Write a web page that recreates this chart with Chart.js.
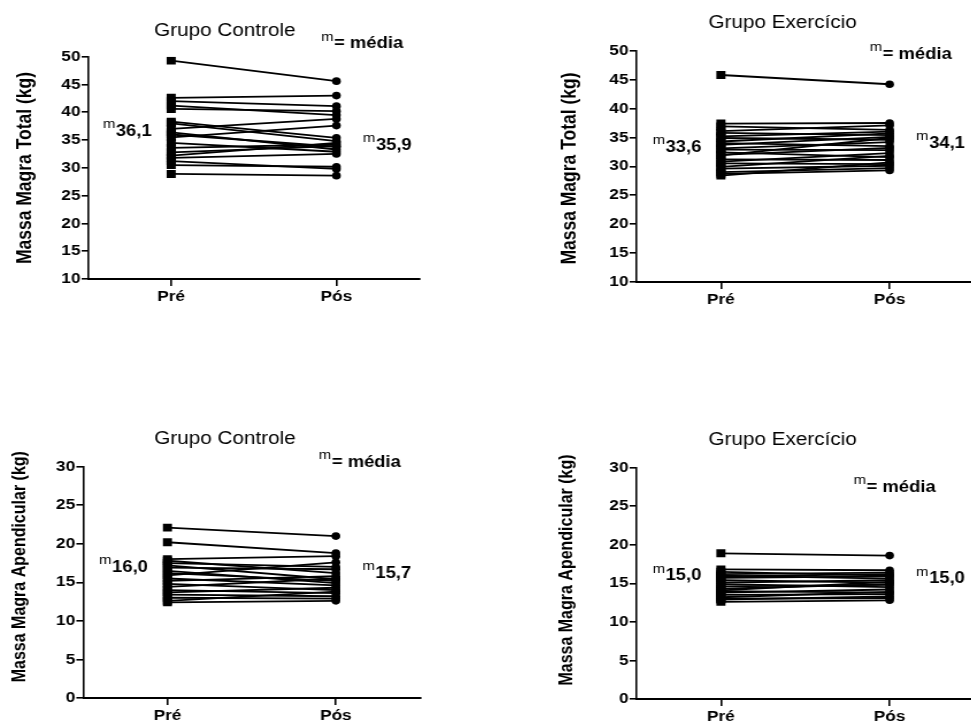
<!DOCTYPE html>
<html>
<head>
    <meta charset="utf-8">
    <title>Massa Magra - Pré e Pós</title>
    <script src="https://cdn.jsdelivr.net/npm/chart.js"></script>
    <style>
        html, body {
            margin: 0;
            padding: 0;
            background: #fff;
            overflow: hidden;
        }
        body {
            width: 971px;
            height: 722px;
            position: relative;
        }
        .panel {
            position: absolute;
            transform-origin: 0 0;
            transform: scaleX(1.15);
        }
    </style>
</head>
<body>
    <div class="panel" style="left:0px; top:21px;"><canvas id="c1" width="370" height="290"></canvas></div>
    <div class="panel" style="left:548.45px; top:13px;"><canvas id="c2" width="376" height="301"></canvas></div>
    <div class="panel" style="left:0.5px; top:429px;"><canvas id="c3" width="370" height="301"></canvas></div>
    <div class="panel" style="left:548.45px; top:430px;"><canvas id="c4" width="376" height="301"></canvas></div>

    <script>
        const categorias = ['Pré', 'Pós'];
        const ticksTotal = [10, 15, 20, 25, 30, 35, 40, 45, 50];
        const ticksApendicular = [0, 5, 10, 15, 20, 25, 30];

        // massa magra total (kg)
        const controleTotalPre = [49.3, 42.6, 42.0, 41.2, 40.6, 38.3, 38.0, 37.0, 36.4, 36.0, 35.5, 34.5, 33.6, 32.8, 32.2, 31.8, 31.2, 30.5, 28.9];
        const controleTotalPos = [45.6, 43.0, 41.1, 39.5, 40.2, 35.4, 34.8, 38.8, 33.3, 33.8, 37.6, 32.9, 34.2, 33.9, 34.5, 32.5, 29.8, 30.2, 28.6];
        const exercicioTotalPre = [45.8, 37.4, 36.9, 36.1, 35.8, 35.2, 34.9, 34.3, 34.0, 33.7, 33.1, 32.9, 32.4, 32.0, 31.9, 31.2, 30.8, 30.5, 29.9, 29.6, 29.0, 28.7, 28.4];
        const exercicioTotalPos = [44.2, 37.5, 36.3, 37.1, 35.4, 36.0, 34.6, 35.7, 33.5, 35.1, 34.2, 32.8, 31.6, 33.2, 34.9, 31.1, 32.3, 30.4, 31.8, 30.1, 29.7, 29.3, 30.7];

        // massa magra apendicular (kg)
        const controleApendPre = [22.1, 20.2, 18.0, 17.8, 17.5, 17.2, 16.9, 16.5, 16.2, 15.9, 15.5, 15.2, 14.8, 14.4, 14.0, 13.7, 13.4, 13.0, 12.6, 12.4];
        const controleApendPos = [21.0, 18.8, 18.4, 16.2, 17.0, 15.4, 16.7, 14.9, 15.2, 17.6, 14.6, 15.8, 14.0, 15.5, 13.6, 14.3, 13.2, 12.9, 13.8, 12.6];
        const exercicioApendPre = [18.9, 16.8, 16.5, 16.2, 16.0, 15.7, 15.4, 15.1, 14.9, 14.6, 14.3, 14.0, 13.8, 13.5, 13.2, 12.9, 12.6, 15.9, 14.1, 13.0];
        const exercicioApendPos = [18.6, 16.7, 16.0, 16.4, 15.6, 15.9, 15.1, 15.4, 14.5, 14.8, 14.9, 13.8, 14.2, 13.6, 13.9, 13.3, 12.8, 16.2, 15.2, 13.1];

        // médias (texto)
        const mediasControleTotal = ['36,1', '35,9'];
        const mediasExercicioTotal = ['33,6', '34,1'];
        const mediasControleApend = ['16,0', '15,7'];
        const mediasExercicioApend = ['15,0', '15,0'];

        const FONT = "'Liberation Sans', Arial, sans-serif";
        Chart.defaults.font.family = FONT;
        Chart.defaults.color = '#000';

        // titulo, titulo do eixo y, rotulos de media e legenda "m= média"
        const anotacoes = {
            id: 'anotacoes',
            afterDatasetsDraw(chart, args, o) {
                const {ctx, chartArea, scales: {x, y}} = chart;
                const xPre = x.getPixelForValue(0);
                const xPos = x.getPixelForValue(1);
                ctx.save();
                ctx.fillStyle = '#000';
                ctx.textBaseline = 'middle';

                ctx.font = '18px ' + FONT;
                ctx.textAlign = 'center';
                ctx.fillText(o.titulo, o.tituloX, o.tituloY);

                ctx.save();
                ctx.translate(o.yTituloX, o.yTituloY);
                ctx.rotate(-Math.PI / 2);
                ctx.font = 'bold ' + o.yTituloSize + 'px ' + FONT;
                ctx.fillText(o.yTitulo, 0, 0);
                ctx.restore();

                ctx.textAlign = 'left';
                function comM(texto, xLeft, yMid) {
                    ctx.font = '13px ' + FONT;
                    const mW = ctx.measureText('m').width;
                    ctx.fillText('m', xLeft, yMid - 7);
                    ctx.font = 'bold 16px ' + FONT;
                    ctx.fillText(texto, xLeft + mW + 0.5, yMid);
                }
                function largura(texto) {
                    ctx.font = '13px ' + FONT;
                    const mW = ctx.measureText('m').width;
                    ctx.font = 'bold 16px ' + FONT;
                    return mW + 0.5 + ctx.measureText(texto).width;
                }

                const wPre = largura(o.medias[0]);
                comM(o.medias[0], xPre - 17 - wPre, y.getPixelForValue(o.yPre));
                comM(o.medias[1], xPos + 23, y.getPixelForValue(o.yPos));

                const wLeg = largura('= média');
                comM('= média', xPos + o.legDx - wLeg, chartArea.top + o.legDy);
                ctx.restore();
            }
        };

        function makeChart(id, pre, pos, cfg) {
            const datasets = pre.map((v, i) => ({
                label: 'S' + (i + 1),
                data: [v, pos[i]],
                borderColor: '#000',
                backgroundColor: '#000',
                borderWidth: 1.8,
                pointStyle: ['rect', 'circle'],
                pointRadius: [5.6, 3.8],
                pointBorderWidth: 0,
                fill: false,
                tension: 0
            }));

            return new Chart(document.getElementById(id), {
                type: 'line',
                data: { labels: categorias, datasets: datasets },
                plugins: [anotacoes],
                options: {
                    responsive: false,
                    animation: false,
                    events: [],
                    layout: { padding: { top: cfg.padTop, left: 0, right: 0, bottom: 0 } },
                    plugins: {
                        legend: { display: false },
                        tooltip: { enabled: false },
                        anotacoes: cfg
                    },
                    scales: {
                        x: {
                            offset: true,
                            afterFit: s => { s.height = 32; },
                            grid: { offset: false, drawOnChartArea: false, tickLength: 7, color: '#000', lineWidth: 1.6 },
                            border: { display: true, color: '#000', width: 2 },
                            ticks: { color: '#000', font: { size: 15, weight: 'bold' }, padding: 2 }
                        },
                        y: {
                            min: cfg.ticks[0],
                            max: cfg.ticks[cfg.ticks.length - 1],
                            afterBuildTicks: s => { s.ticks = cfg.ticks.map(v => ({ value: v })); },
                            afterFit: s => { s.width = cfg.yWidth; },
                            grid: { drawOnChartArea: false, tickLength: 6, color: '#000', lineWidth: 1.6 },
                            border: { display: true, color: '#000', width: 1.6 },
                            ticks: { color: '#000', font: { size: 15, weight: 'bold' }, padding: 1 }
                        }
                    }
                }
            });
        }

        makeChart('c1', controleTotalPre, controleTotalPos, {
            titulo: 'Grupo Controle', tituloX: 195.6, tituloY: 10,
            padTop: 35.7, yWidth: 77, ticks: ticksTotal,
            yTitulo: 'Massa Magra Total (kg)', yTituloSize: 17.5, yTituloX: 21.7, yTituloY: 147,
            medias: mediasControleTotal, yPre: 36.6, yPos: 34.0,
            legDx: 58, legDy: -12.7
        });

        makeChart('c2', exercicioTotalPre, exercicioTotalPos, {
            titulo: 'Grupo Exercício', tituloX: 204, tituloY: 10.5,
            padTop: 37.7, yWidth: 77, ticks: ticksTotal,
            yTitulo: 'Massa Magra Total (kg)', yTituloSize: 17.5, yTituloX: 19.6, yTituloY: 155.5,
            medias: mediasExercicioTotal, yPre: 33.25, yPos: 33.9,
            legDx: 54, legDy: 3.5
        });

        makeChart('c3', controleApendPre, controleApendPos, {
            titulo: 'Grupo Controle', tituloX: 194.8, tituloY: 10.5,
            padTop: 37.7, yWidth: 71.5, ticks: ticksApendicular,
            yTitulo: 'Massa Magra Apendicular (kg)', yTituloSize: 16, yTituloX: 17, yTituloY: 137.7,
            medias: mediasControleApend, yPre: 16.9, yPos: 16.1,
            legDx: 56.5, legDy: -4
        });

        makeChart('c4', exercicioApendPre, exercicioApendPos, {
            titulo: 'Grupo Exercício', tituloX: 204, tituloY: 10.5,
            padTop: 37.7, yWidth: 77, ticks: ticksApendicular,
            yTitulo: 'Massa Magra Apendicular (kg)', yTituloSize: 16, yTituloX: 17, yTituloY: 140,
            medias: mediasExercicioApend, yPre: 15.95, yPos: 15.56,
            legDx: 40, legDy: 20
        });
    </script>
</body>
</html>
